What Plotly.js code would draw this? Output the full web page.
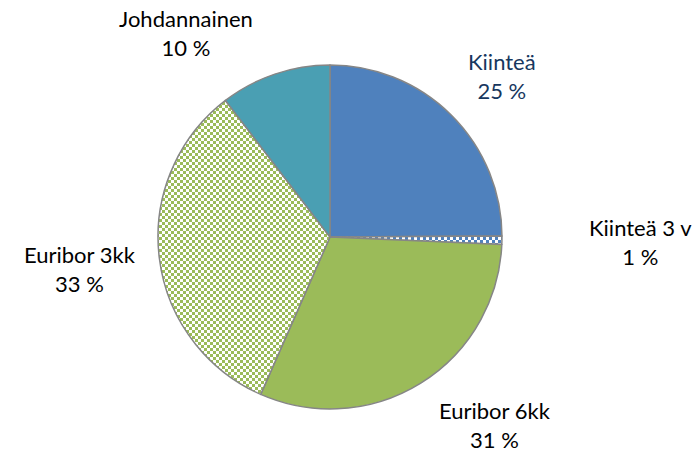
<!DOCTYPE html>
<html>
<head>
<meta charset="utf-8">
<script src="https://cdn.plot.ly/plotly-3.0.1.min.js"></script>
<style>html,body{margin:0;padding:0;background:#fff;}#chart{width:697px;height:456px;}</style>
</head>
<body>
<div id="chart"></div>
<script>
// Data
var categories = ["Kiinteä", "Kiinteä 3 v", "Euribor 6kk", "Euribor 3kk", "Johdannainen"];
var shares = [24.9, 0.8, 30.9, 33.0, 10.4];
var sliceColors = ["#4F81BD", "#4F81BD", "#9BBB59", "#9BBB59", "#4A9FB3"];
var patterned = [false, true, false, true, false];
var labelColors = ["#17375E", "#000000", "#000000", "#000000", "#000000"];

var total = shares.reduce(function(a, b){ return a + b; }, 0);
var pctText = shares.map(function(v){ return Math.round(v / total * 100) + " %"; });

var trace = {
  type: "pie",
  values: shares,
  labels: categories,
  sort: false,
  direction: "clockwise",
  rotation: 0,
  textinfo: "none",
  hoverinfo: "label+percent",
  showlegend: false,
  domain: {x: [0.2267, 0.7202], y: [0.1031, 0.8575]},
  marker: {
    colors: sliceColors,
    line: {color: "#868686", width: 1.5},
    pattern: {
      shape: patterned.map(function(p){ return p ? "." : ""; }),
      fgcolor: sliceColors,
      bgcolor: patterned.map(function(p, i){ return p ? "#FFFFFF" : sliceColors[i]; }),
      size: 6,
      solidity: 0.5,
      fillmode: "replace"
    }
  }
};

// label anchor positions (pixels)
var labelPos = [[502, 76], [640, 242], [495, 425], [80, 269], [186, 33]];
var W = 697, H = 456;
var annotations = categories.map(function(c, i){
  return {
    text: c + "<br>" + pctText[i],
    x: labelPos[i][0] / W,
    y: 1 - labelPos[i][1] / H,
    xref: "paper", yref: "paper",
    xanchor: "center", yanchor: "middle",
    showarrow: false,
    align: "center",
    borderpad: 0,
    font: {family: "Lato, 'Noto Sans', sans-serif", size: 22, color: labelColors[i]}
  };
});

var layout = {
  width: W, height: H,
  margin: {l: 0, r: 0, t: 0, b: 0},
  paper_bgcolor: "#FFFFFF",
  plot_bgcolor: "#FFFFFF",
  annotations: annotations
};

Plotly.newPlot("chart", [trace], layout, {displayModeBar: false, staticPlot: true}).then(function(gd){
  // turn the library's dot pattern into a small checkerboard texture
  var NS = "http://www.w3.org/2000/svg";
  var pats = gd.querySelectorAll("pattern");
  pats.forEach(function(p){
    var shape = p.querySelector("circle, path");
    if (!shape) return;
    var fg = shape.getAttribute("fill") || shape.style.fill;
    if (!fg) return;
    while (p.firstChild) p.removeChild(p.firstChild);
    p.setAttribute("width", 6);
    p.setAttribute("height", 6);
    p.setAttribute("patternUnits", "userSpaceOnUse");
    var bg = document.createElementNS(NS, "rect");
    bg.setAttribute("x", 0); bg.setAttribute("y", 0);
    bg.setAttribute("width", 6); bg.setAttribute("height", 6);
    bg.setAttribute("fill", "#FFFFFF");
    p.appendChild(bg);
    [[0, 0], [3, 3]].forEach(function(o){
      var r = document.createElementNS(NS, "rect");
      r.setAttribute("x", o[0]); r.setAttribute("y", o[1]);
      r.setAttribute("width", 3); r.setAttribute("height", 3);
      r.setAttribute("fill", fg);
      p.appendChild(r);
    });
  });
});
</script>
</body>
</html>
